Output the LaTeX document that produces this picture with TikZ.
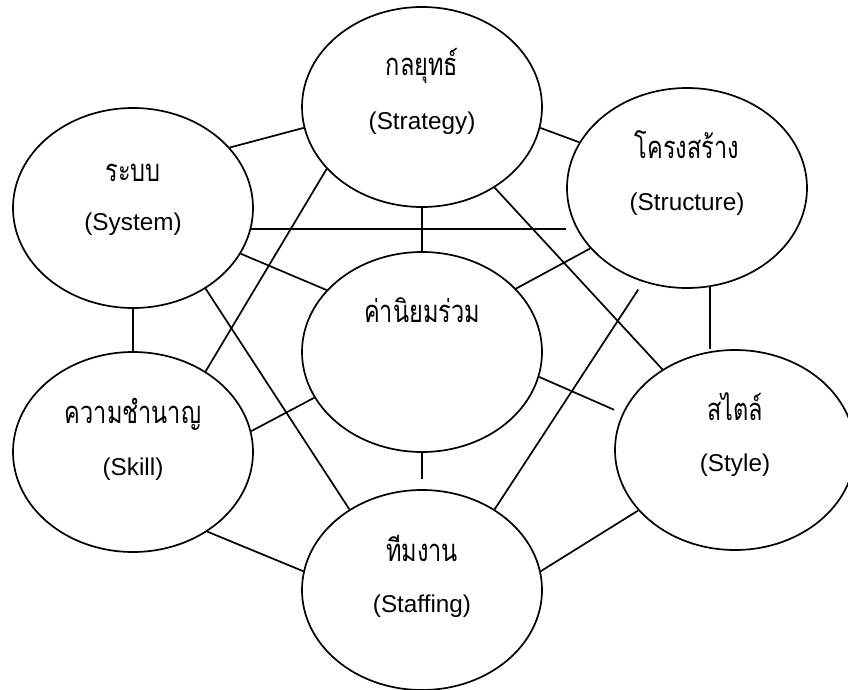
\documentclass[tikz,border=0pt]{standalone}
\usepackage{fontspec}
\setmainfont{Liberation Sans}
\newfontfamily\thaifont[Script=Thai, FakeStretch=0.76]{Loma}
\usetikzlibrary{shapes.geometric,calc}
\begin{document}
\begin{tikzpicture}[x=1pt,y=-1pt,
  element/.style={draw, ellipse, line width=1.7pt, minimum width=240pt,
                  minimum height=200pt, inner sep=0pt},
  link/.style={line width=1.7pt},
  thai/.style={font=\thaifont\fontsize{31}{34}\selectfont, anchor=base, inner sep=0pt},
  eng/.style={font=\fontsize{24.3}{28}\selectfont, anchor=base, inner sep=0pt}]
\useasboundingbox (0,0) rectangle (848,690);

% the seven elements
\node[element] (S) at (422,107) {};
\node[element] (T) at (687,188) {};
\node[element] (Y) at (133,208) {};
\node[element] (V) at (422,352) {};
\node[element] (K) at (133,452) {};
\node[element] (L) at (735,450) {};
\node[element] (F) at (422,590) {};

% labels
\node[thai] (S-th) at ($(S)+(0,-31)$) {กลยุทธ์};
\node[eng]  (S-en) at ($(S)+(0,23)$)  {(Strategy)};
\node[thai] (T-th) at ($(T)+(0,-30)$) {โครงสร้าง};
\node[eng]  (T-en) at ($(T)+(0,22)$)  {(Structure)};
\node[thai] (Y-th) at ($(Y)+(0,-27)$) {ระบบ};
\node[eng]  (Y-en) at ($(Y)+(0,22)$)  {(System)};
\node[thai] (V-th) at ($(V)+(0,-30)$) {ค่านิยมร่วม};
\node[thai] (K-th) at ($(K)+(0,-29)$) {ความชำนาญ};
\node[eng]  (K-en) at ($(K)+(0,23)$)  {(Skill)};
\node[thai] (L-th) at ($(L)+(0,-30)$) {สไตล์};
\node[eng]  (L-en) at ($(L)+(0,21)$)  {(Style)};
\node[thai] (F-th) at ($(F)+(0,-29)$) {ทีมงาน};
\node[eng]  (F-en) at ($(F)+(0,22)$)  {(Staffing)};

% connections
\draw[link] (Y.32) -- (S.190);
\draw[link] (Y.-10) -- (Y.-10 -| T.west);
\draw[link] (S.south) -- (V.north);
\draw[link] (Y.-23) -- (V.147);
\draw[link] (S.213) -- (K.48);
\draw[link] (Y.-48) -- (F.132);
\draw[link] (Y.south) -- (K.north);
\draw[link] (S.-10) -- (T.157);
\draw[link] (S.-48) -- (L.132);
\draw[link] (T.212) -- (V.34);
\draw[link, shorten <=9pt] (T.245) -- (F.48);
\draw[link] (T.-77) -- (T.-77 |- L.north);
\draw[link] (K.10) -- (V.203);
\draw[link] (K.-47) -- (F.171);
\draw[link, shorten >=10pt] (V.south) -- (F.north);
\draw[link, shorten >=9pt] (V.-12) -- (L.162);
\draw[link] (L.212) -- (F.9);
\end{tikzpicture}
\end{document}
